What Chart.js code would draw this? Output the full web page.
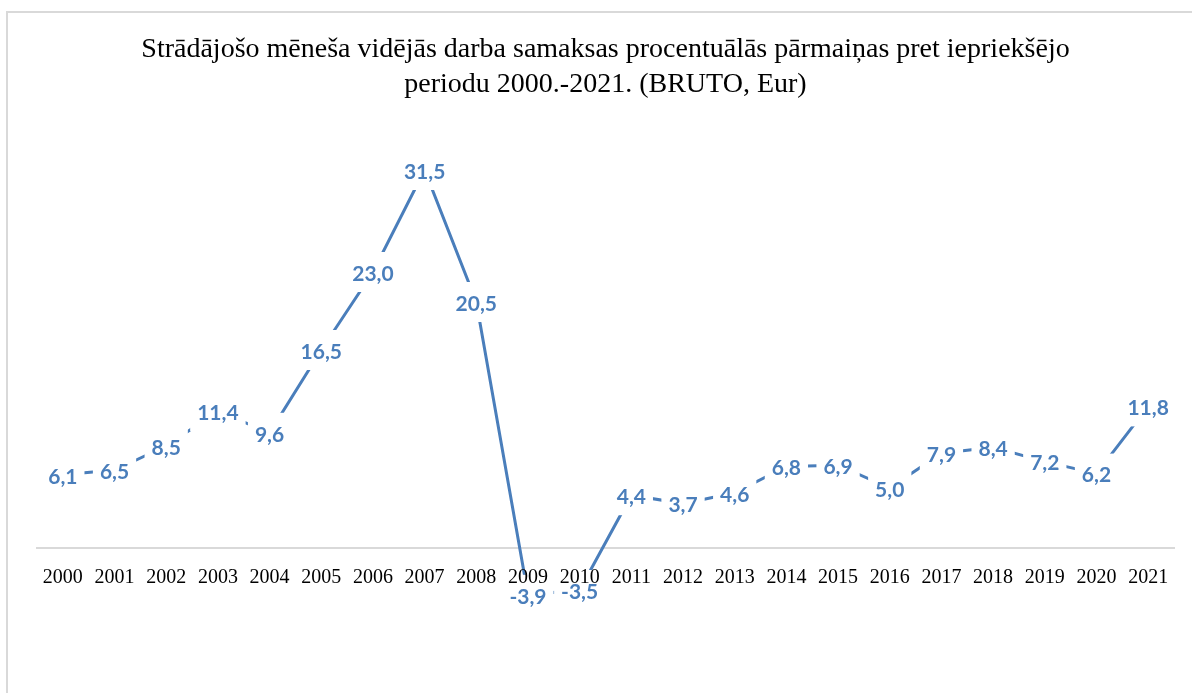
<!DOCTYPE html>
<html>
<head>
<meta charset="utf-8">
<script src="https://cdn.jsdelivr.net/npm/chart.js@4.4.1/dist/chart.umd.min.js"></script>
<style>
    html, body { margin: 0; padding: 0; background: #fff; overflow: hidden; }
    #frame {
        position: absolute; left: 6px; top: 11px; width: 1300px; height: 800px;
        border-left: 2px solid #d9d9d9; border-top: 2px solid #d9d9d9;
    }
    #wrap { position: absolute; left: 0; top: 0; width: 1192px; height: 693px; }
</style>
</head>
<body>
<div id="frame"></div>
<div id="wrap"><canvas id="lineChart"></canvas></div>
<script>
// 数据
const years = ['2000', '2001', '2002', '2003', '2004', '2005', '2006', '2007', '2008', '2009', '2010',
    '2011', '2012', '2013', '2014', '2015', '2016', '2017', '2018', '2019', '2020', '2021'];
const changes = [6.1, 6.5, 8.5, 11.4, 9.6, 16.5, 23.0, 31.5, 20.5, -3.9, -3.5,
    4.4, 3.7, 4.6, 6.8, 6.9, 5.0, 7.9, 8.4, 7.2, 6.2, 11.8];
const titleLines = [
    'Strādājošo mēneša vidējās darba samaksas procentuālās pārmaiņas pret iepriekšējo',
    'periodu 2000.-2021. (BRUTO, Eur)'
];

const blue = '#4a7ebb';

/**
 * 数据标签：白底，盖住线条
 */
const valueLabels = {
    id: 'valueLabels',
    afterDatasetsDraw(chart) {
        const ctx = chart.ctx;
        const meta = chart.getDatasetMeta(0);
        ctx.save();
        ctx.font = 'bold 21px Lato';
        ctx.textAlign = 'center';
        ctx.textBaseline = 'middle';
        meta.data.forEach((pt, i) => {
            const txt = changes[i].toFixed(1).replace('.', ',');
            const w = ctx.measureText(txt).width;
            ctx.fillStyle = '#fff';
            ctx.fillRect(pt.x - w / 2 - 7, pt.y - 20, w + 14, 40);
            ctx.fillStyle = blue;
            ctx.fillText(txt, pt.x, pt.y + 2);
        });
        ctx.restore();
    }
};

new Chart(document.getElementById('lineChart').getContext('2d'), {
    type: 'line',
    data: {
        labels: years,
        datasets: [{
            data: changes,
            borderColor: blue,
            borderWidth: 3,
            pointRadius: 0,
            tension: 0,
            fill: false
        }]
    },
    options: {
        responsive: true,
        maintainAspectRatio: false,
        animation: false,
        layout: { padding: { left: 37, right: 18, top: 0, bottom: 25 } },
        plugins: {
            legend: { display: false },
            tooltip: { enabled: false },
            title: {
                display: true,
                text: titleLines,
                color: '#000',
                font: { family: 'Liberation Serif', size: 28, weight: 'normal', lineHeight: 1.25 },
                padding: { top: 32, bottom: 26 }
            }
        },
        scales: {
            y: { display: false, min: -10, max: 35 },
            x: {
                position: { y: 0 },
                offset: true,
                grid: { display: false },
                border: { display: true, color: '#d9d9d9', width: 2 },
                ticks: {
                    z: 1,
                    color: '#000',
                    font: { family: 'Liberation Serif', size: 20 },
                    padding: 10,
                    maxRotation: 0,
                    autoSkip: false
                }
            }
        }
    },
    plugins: [valueLabels]
});
</script>
</body>
</html>
